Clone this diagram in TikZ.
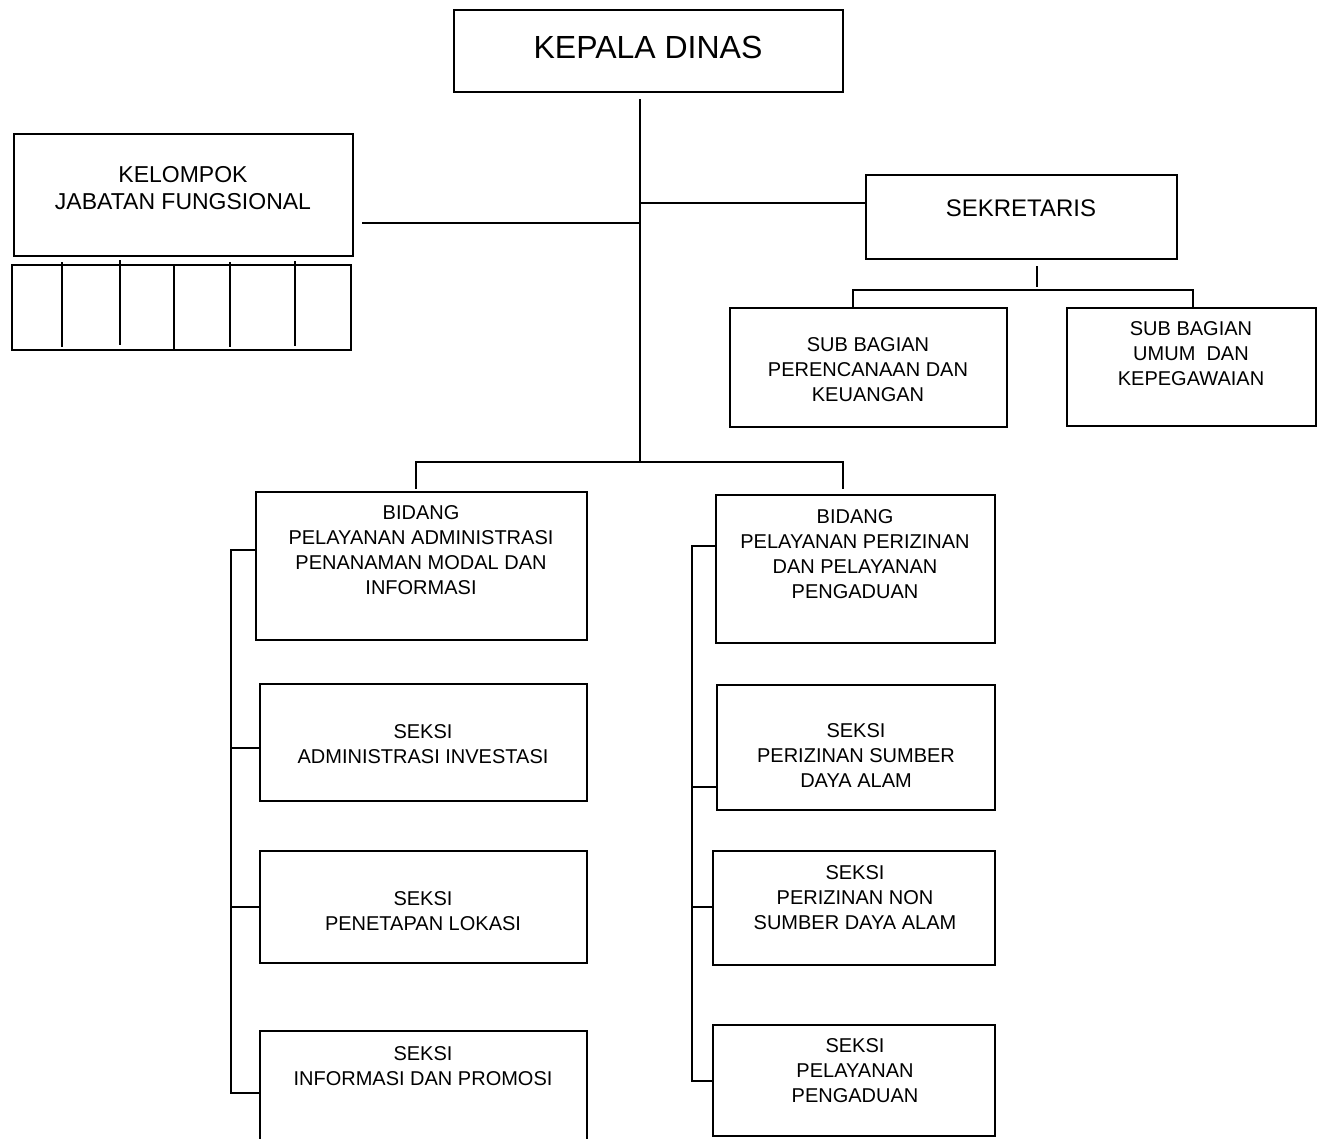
\documentclass[tikz,border=0pt]{standalone}
\usepackage{fontspec}
\setmainfont{Liberation Sans}
\begin{document}
\begin{tikzpicture}[x=1pt,y=-1pt,
  box/.style={draw=black,line width=2.6pt,inner sep=0pt,outer sep=0pt,anchor=north west},
  conn/.style={draw=black,line width=2.6pt},
  txt/.style={align=center,inner sep=0pt,font=\fontsize{20}{25}\selectfont}]
\useasboundingbox (0,0) rectangle (1319,1138);
\fill[white] (0,0) rectangle (1319,1138);

% boxes
\node[box,minimum width=389pt,minimum height=82pt] (kd) at (454,10) {};
\node[txt,font=\fontsize{32}{38}\selectfont] (kdt) at (648,47) {KEPALA DINAS};

\node[box,minimum width=339pt,minimum height=122pt] (kel) at (14,134) {};
\node[txt,font=\fontsize{23}{27}\selectfont] (kelt) at (183,188) {KELOMPOK\\JABATAN FUNGSIONAL};
\node[box,minimum width=339pt,minimum height=85pt] (grid) at (12,265) {};

\node[box,minimum width=311pt,minimum height=84pt] (sek) at (866,175) {};
\node[txt,font=\fontsize{24}{28}\selectfont] (sekt) at (1021,208) {SEKRETARIS};

\node[box,minimum width=277pt,minimum height=119pt] (sb1) at (730,308) {};
\node[txt] (sb1t) at (868,370) {SUB BAGIAN\\PERENCANAAN DAN\\KEUANGAN};
\node[box,minimum width=249pt,minimum height=118pt] (sb2) at (1067,308) {};
\node[txt] (sb2t) at (1191,354) {SUB BAGIAN\\UMUM\ \ DAN\\KEPEGAWAIAN};

\node[box,minimum width=331pt,minimum height=148pt] (bd1) at (256,492) {};
\node[txt] (bd1t) at (421,550) {BIDANG\\PELAYANAN ADMINISTRASI\\PENANAMAN MODAL DAN\\INFORMASI};
\node[box,minimum width=327pt,minimum height=117pt] (sa) at (260,684) {};
\node[txt] (sat) at (423,744) {SEKSI\\ADMINISTRASI INVESTASI};
\node[box,minimum width=327pt,minimum height=112pt] (sp) at (260,851) {};
\node[txt] (spt) at (423,911) {SEKSI\\PENETAPAN LOKASI};
\node[box,draw=none,minimum width=327pt,minimum height=120pt] (si) at (260,1031) {};
\draw[conn] (si.south west) -- (si.north west) -- (si.north east) -- (si.south east);
\node[txt] (sit) at (423,1066) {SEKSI\\INFORMASI DAN PROMOSI};

\node[box,minimum width=279pt,minimum height=148pt] (bd2) at (716,495) {};
\node[txt] (bd2t) at (855,554) {BIDANG\\PELAYANAN PERIZINAN\\DAN PELAYANAN\\PENGADUAN};
\node[box,minimum width=278pt,minimum height=125pt] (ps) at (717,685) {};
\node[txt] (pst) at (856,756) {SEKSI\\PERIZINAN SUMBER\\DAYA ALAM};
\node[box,minimum width=282pt,minimum height=114pt] (pn) at (713,851) {};
\node[txt] (pnt) at (855,898) {SEKSI\\PERIZINAN NON\\SUMBER DAYA ALAM};
\node[box,minimum width=282pt,minimum height=111pt] (pp) at (713,1025) {};
\node[txt] (ppt) at (855,1071) {SEKSI\\PELAYANAN\\PENGADUAN};

% grid lines
\draw[conn] (62,262) -- (62,347);
\draw[conn] (120,260) -- (120,345);
\draw[conn] (174,265) -- (174,350);
\draw[conn] (230,262) -- (230,347);
\draw[conn] (295,261) -- (295,346);

% main spine
\coordinate (sptop) at (640,99);
\coordinate (spbot) at (640,462);
\draw[conn] (sptop) -- (spbot);
\coordinate (jS) at (640,203);
\draw[conn] (jS) -- (jS -| sek.west);
\coordinate (jK) at (640,223);
\coordinate (kEnd) at (362,223);
\draw[conn] (jK) -- (kEnd);
\coordinate (b1top) at (416,489);
\coordinate (b2top) at (843,489);
\draw[conn] (b1top) |- (spbot) -| (b2top);

% sekretaris
\coordinate (sk1) at (1037,266);
\coordinate (sk2) at (1037,287);
\draw[conn] (sk1) -- (sk2);
\coordinate (sbL) at (853,308);
\coordinate (sbR) at (1193,308);
\draw[conn] (sbL) -- ++(0,-18) -| (sbR);

% left spine
\coordinate (lstop) at (231,550);
\coordinate (lsbot) at (231,1093);
\draw[conn] (lstop -| bd1.west) -- (lstop) -- (lsbot) -- (lsbot -| si.west);
\coordinate (l1) at (231,748);
\draw[conn] (l1) -- (l1 -| sa.west);
\coordinate (l2) at (231,907);
\draw[conn] (l2) -- (l2 -| sp.west);

% right spine
\coordinate (rstop) at (692,546);
\coordinate (rsbot) at (692,1081);
\draw[conn] (rstop -| bd2.west) -- (rstop) -- (rsbot) -- (rsbot -| pp.west);
\coordinate (r1) at (692,787);
\draw[conn] (r1) -- (r1 -| ps.west);
\coordinate (r2) at (692,907);
\draw[conn] (r2) -- (r2 -| pn.west);
\end{tikzpicture}
\end{document}
